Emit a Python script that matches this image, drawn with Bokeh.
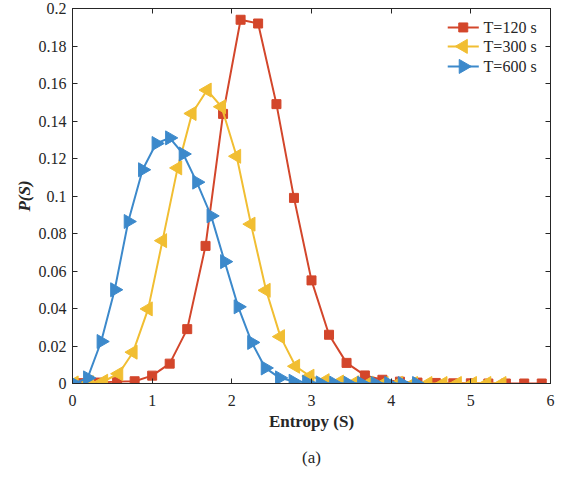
import math
from bokeh.plotting import figure
from bokeh.models import Range1d, LinearAxis, FixedTicker, Title
from bokeh.embed import file_html
from bokeh.resources import INLINE

# ---- data ----
red_x = [0.11, 0.33, 0.56, 0.78, 1.00, 1.22, 1.44, 1.67, 1.89, 2.11, 2.33, 2.56, 2.78, 3.00,
         3.22, 3.44, 3.67, 3.89, 4.11, 4.33, 4.56, 4.78, 5.00, 5.22, 5.44, 5.67, 5.89]
red_y = [0.0002, 0.0005, 0.0010, 0.0012, 0.0042, 0.0106, 0.0290, 0.0734, 0.1438, 0.1940,
         0.1920, 0.1490, 0.0990, 0.0550, 0.0260, 0.0110, 0.0043, 0.0020, 0.0010, 0.0005,
         0.0003, 0.0001, 0.0001, 0.0, 0.0, 0.0, 0.0]

yellow_x = [0.02, 0.21, 0.39, 0.58, 0.76, 0.95, 1.13, 1.32, 1.50, 1.69, 1.87, 2.06, 2.24, 2.43,
            2.61, 2.80, 2.98, 3.17, 3.35, 3.54, 3.72, 3.91, 4.09, 4.28, 4.46, 4.65, 4.83, 5.02,
            5.20, 5.39]
yellow_y = [0.0003, 0.0005, 0.0012, 0.0052, 0.0167, 0.0398, 0.0762, 0.1150, 0.1440, 0.1565,
            0.1476, 0.1212, 0.0850, 0.0497, 0.0250, 0.0092, 0.0039, 0.0015, 0.0008, 0.0004,
            0.0002, 0.0001, 0.0001, 0.0, 0.0, 0.0, 0.0, 0.0, 0.0, 0.0]

blue_x = [0.02, 0.19, 0.36, 0.53, 0.70, 0.88, 1.05, 1.22, 1.39, 1.56, 1.74, 1.91, 2.08, 2.25,
          2.42, 2.60, 2.77, 2.94, 3.11, 3.28, 3.46, 3.63, 3.80, 3.97, 4.14, 4.32]
blue_y = [0.0, 0.0030, 0.0224, 0.0500, 0.0864, 0.1140, 0.1280, 0.1310, 0.1224, 0.1074,
          0.0894, 0.0650, 0.0409, 0.0219, 0.0083, 0.0030, 0.0012, 0.0007, 0.0003, 0.0002,
          0.0001, 0.0001, 0.0, 0.0, 0.0, 0.0]

series_labels = ["T=120 s", "T=300 s", "T=600 s"]
x_ticks = [0, 1, 2, 3, 4, 5, 6]
y_ticks = [0, 0.02, 0.04, 0.06, 0.08, 0.1, 0.12, 0.14, 0.16, 0.18, 0.2]
y_tick_labels = ["0", "0.02", "0.04", "0.06", "0.08", "0.1", "0.12", "0.14", "0.16", "0.18", "0.2"]

# legend key placement (data units, top-right corner of the axes)
leg_line_x0, leg_line_x1, leg_text_x = 4.71, 5.10, 5.16
leg_row_y = [0.1899, 0.1798, 0.1691]

RED, YEL, BLU = "#D3462B", "#F1BE32", "#3C89CB"
AX = "#262626"
FONT = "Liberation Serif"

W, H = 563, 478
p = figure(width=W, height=H, output_backend="svg", toolbar_location=None,
           x_range=Range1d(0, 6), y_range=Range1d(0, 0.2),
           min_border_left=72, min_border_right=13, min_border_top=8, min_border_bottom=94)
p.background_fill_color = "white"
p.border_fill_color = "white"
p.outline_line_color = AX
p.outline_line_width = 1
p.grid.visible = False

def style_axis(ax, labels=True):
    ax.minor_tick_line_color = None
    ax.major_tick_in = 5
    ax.major_tick_out = 0
    ax.major_tick_line_color = AX
    ax.axis_line_color = AX
    if labels:
        ax.major_label_text_font = FONT
        ax.major_label_text_font_size = "16px"
        ax.major_label_text_color = AX
        ax.axis_label_text_font = FONT
        ax.axis_label_text_font_size = "17px"
        ax.axis_label_text_color = AX
    else:
        ax.major_label_text_color = None
        ax.major_label_text_font_size = "1px"
        ax.major_label_standoff = 0

p.xaxis.ticker = FixedTicker(ticks=x_ticks)
p.yaxis.ticker = FixedTicker(ticks=y_ticks)
p.yaxis.major_label_overrides = {t: s for t, s in zip(y_ticks, y_tick_labels)}
style_axis(p.xaxis[0])
style_axis(p.yaxis[0])
p.xaxis.major_label_standoff = 11
p.yaxis.major_label_standoff = 6
p.xaxis.axis_label = "Entropy (S)"
p.xaxis.axis_label_text_font_style = "bold"
p.xaxis.axis_label_standoff = 3
p.yaxis.axis_label = "P(S)"
p.yaxis.axis_label_text_font_style = "bold italic"
p.yaxis.axis_label_standoff = 2

top_ax = LinearAxis(ticker=FixedTicker(ticks=x_ticks))
right_ax = LinearAxis(ticker=FixedTicker(ticks=y_ticks))
style_axis(top_ax, labels=False)
style_axis(right_ax, labels=False)
p.add_layout(top_ax, "above")
p.add_layout(right_ax, "right")

specs = [
    (red_x, red_y, RED, "square", 9, 0.0),
    (yellow_x, yellow_y, YEL, "triangle", 14, math.pi / 2),
    (blue_x, blue_y, BLU, "triangle", 14, -math.pi / 2),
]
for i, ((xs, ys, col, mk, sz, ang), lab) in enumerate(zip(specs, series_labels)):
    p.line(xs, ys, line_color=col, line_width=2)
    p.scatter(xs, ys, marker=mk, size=sz, angle=ang, fill_color=col, line_color=col)
    # legend key
    ly = leg_row_y[i]
    p.line([leg_line_x0, leg_line_x1], [ly, ly], line_color=col, line_width=2)
    p.scatter([(leg_line_x0 + leg_line_x1) / 2], [ly], marker=mk, size=sz, angle=ang,
              fill_color=col, line_color=col)
    p.text(x=[leg_text_x], y=[ly], text=[lab], text_font="Liberation Serif",
           text_font_size="16px", text_color=AX, text_align="left", text_baseline="middle")

cap = Title(text="(a)", align="center", text_font=FONT, text_font_size="17px",
            text_font_style="normal", text_color=AX, standoff=24)
p.add_layout(cap, "below")

open("out.html", "w").write(file_html(p, INLINE))
